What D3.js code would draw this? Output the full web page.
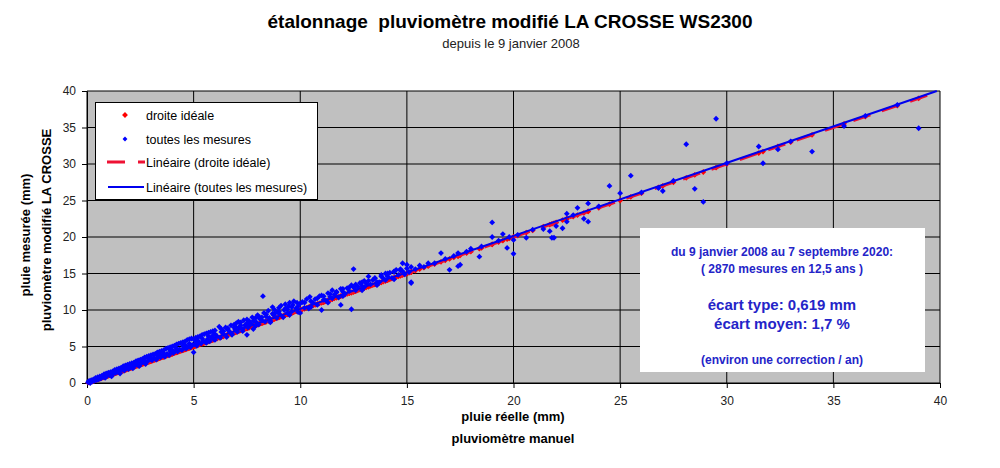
<!DOCTYPE html>
<html>
<head>
<meta charset="utf-8">
<script src="https://cdn.jsdelivr.net/npm/d3@7"></script>
<style>
  body { margin: 0; background: #fff; }
  text { font-family: Arial, "Liberation Sans", sans-serif; white-space: pre; }
</style>
</head>
<body>
<div id="chart"></div>
<script>
// data: [pluie réelle, pluie mesurée] in mm
var mesures = [
  [0.05,0.1],[0.1,0.3],[0.15,0.0],[0.2,0.4],[0.25,0.2],[0.3,0.5],[0.35,0.3],[0.4,0.7],[0.45,0.4],[0.5,0.8],
  [0.55,0.5],[0.6,0.9],[0.65,0.6],[0.7,1.0],[0.75,0.8],[0.8,1.2],[0.85,0.7],[0.9,1.3],[0.95,1.0],[1.0,1.4],
  [1.05,1.1],[1.1,1.5],[1.15,0.9],[1.2,1.6],[1.25,1.3],[1.3,1.8],[1.35,1.4],[1.4,1.9],[1.45,1.5],[1.5,2.0],
  [1.55,1.3],[1.6,2.1],[1.65,1.8],[1.7,2.3],[1.75,1.7],[1.8,2.4],[1.85,2.0],[1.9,2.5],[1.95,1.9],[2.0,2.6],
  [2.05,2.2],[2.1,2.7],[2.15,2.0],[2.2,2.8],[2.25,2.4],[2.3,3.0],[2.35,2.5],[2.4,3.1],[2.45,2.3],[2.5,3.2],
  [2.55,2.7],[2.6,3.3],[2.65,2.9],[2.7,3.5],[2.75,2.6],[2.8,3.6],[2.85,3.0],[2.9,3.7],[2.95,3.2],[3.0,3.8],
  [3.05,3.1],[3.1,3.9],[3.15,3.4],[3.2,4.0],[3.25,3.2],[3.3,4.2],[3.35,3.6],[3.4,4.3],[3.45,3.5],[3.5,4.4],
  [3.55,3.8],[3.6,4.5],[3.65,3.6],[3.7,4.7],[3.75,4.0],[3.8,4.8],[3.85,3.8],[3.9,4.9],[3.95,4.2],[4.0,5.0],
  [4.05,4.1],[4.1,5.1],[4.15,4.4],[4.2,5.3],[4.25,4.3],[4.3,5.4],[4.35,4.6],[4.4,5.5],[4.45,4.5],[4.5,5.6],
  [4.55,4.8],[4.6,5.7],[4.65,4.7],[4.7,5.9],[4.75,5.0],[4.8,6.0],[4.85,4.9],[4.9,6.1],[4.95,5.2],[5.0,4.2],
  [5.0,6.0],[5.05,5.3],[5.1,6.2],[5.15,5.1],[5.2,6.3],[5.25,5.5],[5.3,6.4],[5.35,5.4],[5.4,6.6],[5.45,5.8],
  [5.5,6.7],[5.55,5.6],[5.6,6.8],[5.65,6.0],[5.7,6.9],[5.75,5.7],[5.8,7.0],[5.85,6.2],[5.9,7.1],[5.95,6.0],
  [6.0,7.2],[6.1,6.4],[6.2,7.7],[6.25,6.2],[6.3,7.4],[6.4,6.7],[6.5,7.6],[6.55,6.3],[6.6,7.5],[6.7,7.0],
  [6.75,7.9],[6.8,6.7],[6.9,8.0],[6.95,7.3],[7.0,8.2],
  [7.05,7.0],[7.1,8.4],[7.15,7.6],[7.2,8.3],[7.3,7.4],[7.35,8.6],[7.4,7.9],[7.5,6.6],[7.5,8.7],[7.55,7.6],
  [7.6,8.5],[7.7,8.1],[7.75,9.0],[7.8,7.4],[7.9,8.9],[7.95,8.3],
  [8.0,9.3],[8.05,8.0],[8.1,9.0],[8.2,8.6],[8.25,11.9],[8.3,9.6],[8.35,8.4],[8.4,9.4],[8.5,9.9],[8.55,8.9],
  [8.6,8.3],[8.7,10.4],[8.75,9.3],[8.8,10.0],[8.9,8.9],[8.95,9.7],
  [9.0,10.3],[9.05,9.4],[9.1,10.6],[9.2,9.0],[9.25,10.0],[9.3,10.8],[9.4,9.6],[9.45,10.5],[9.5,11.0],[9.6,9.8],
  [9.65,10.7],[9.7,11.2],[9.8,10.2],[9.85,11.0],[9.9,9.7],[10.0,10.9],[10.0,9.6],
  [0.3,0.4],[0.6,0.75],[0.9,1.1],[1.2,1.45],[1.5,1.75],[1.8,2.1],[2.1,2.4],[2.4,2.75],[2.7,3.05],[3.0,3.4],
  [3.3,3.75],[3.6,4.05],[3.9,4.4],[4.2,4.75],[4.5,5.1],[4.8,5.4],[5.1,5.7],[5.4,6.1],[5.7,6.4],[6.0,6.7],
  [6.3,7.0],[6.6,7.3],[6.9,7.6],[7.2,7.9],[7.5,8.2],[7.8,8.5],[8.1,8.8],[8.4,9.1],[8.7,9.5],[9.0,9.8],
  [9.3,10.2],[9.6,10.4],[9.9,10.5],[10.2,11.0],[10.5,11.2],[10.8,11.6],[11.1,11.9],[11.4,12.2],[11.7,12.5],
  [12.0,12.9],[12.3,13.1],[12.6,13.5],[12.9,13.8],[13.2,14.0],[13.5,14.4],[13.8,14.6],[14.1,15.0],[14.4,15.2],
  [14.7,15.4],
  [0.5,0.55],[1.0,1.15],[1.7,2.0],[2.2,2.6],[2.9,3.3],[3.4,3.9],[4.0,4.5],[4.6,5.2],[5.2,5.8],[5.9,6.5],
  [6.4,7.1],[7.0,7.6],[7.6,8.1],[8.2,9.0],[8.8,9.5],[9.4,10.1],
  [5.6,5.5],[6.0,5.9],[6.8,6.6],[7.3,7.1],[7.9,7.8],[8.6,8.5],[9.5,9.3],[10.4,10.2],[11.3,11.0],[12.0,11.9],
  [12.9,12.7],[13.6,13.4],[14.4,14.2],
  [10.1,11.1],[10.2,10.3],[10.3,11.5],[10.45,11.8],[10.5,10.4],[10.6,11.0],[10.7,11.5],[10.8,10.7],[10.9,11.9],
  [11.0,10.0],[11.0,12.0],[11.1,11.4],[11.2,11.3],[11.3,12.3],[11.4,11.8],[11.5,12.7],[11.5,11.6],[11.6,12.1],
  [11.7,12.4],[11.8,11.7],[11.9,10.7],[11.9,12.9],[12.0,12.5],[12.1,12.2],[12.2,13.0],[12.3,12.6],[12.4,10.1],
  [12.4,13.4],[12.5,15.6],[12.5,13.1],[12.6,12.7],[12.7,13.2],[12.8,13.7],[12.9,13.3],[13.0,13.1],[13.0,14.0],
  [13.1,13.6],[13.2,14.6],[13.3,13.5],[13.4,14.1],[13.5,14.3],[13.6,13.8],[13.7,13.8],[13.8,14.8],[13.9,14.3],
  [14.0,14.1],[14.0,15.0],[14.1,14.6],[14.2,15.1],[14.3,14.4],[14.4,15.3],[14.5,15.5],[14.6,14.8],[14.7,15.6],
  [14.8,16.4],[14.8,15.3],[14.9,14.9],[15.0,15.7],[15.0,16.2],[15.1,15.2],[15.2,13.7],[15.2,15.9],[15.2,13.8],
  [15.4,15.6],[15.6,16.1],[15.8,15.9],[16.0,16.4],[16.3,16.4],[16.6,17.8],[16.8,17.0],[17.0,15.5],[17.2,17.4],
  [17.4,16.0],[17.4,17.8],[17.5,16.2],[17.8,18.0],[18.0,18.4],[18.4,17.3],[18.5,18.7],[19.0,22.0],[19.0,20.0],
  [19.3,19.5],[19.5,20.4],[19.7,18.5],[19.8,20.0],[20.0,19.6],[20.0,17.7],[20.2,20.3],[20.6,19.9],[20.9,21.0],
  [21.4,21.1],[21.7,20.8],[21.8,19.9],[21.9,19.9],[22.0,21.5],[22.3,21.2],[22.5,23.2],[22.5,22.1],[22.8,23.0],
  [23.0,24.0],[23.3,22.5],[23.5,24.6],[23.5,22.1],[24.0,24.2],[24.5,27.0],[25.0,26.0],[25.5,28.4],[26.0,26.1],
  [26.8,26.7],[27.0,26.3],[27.5,27.7],[28.1,32.7],[28.5,26.6],[28.9,24.8],[29.5,36.2],[30.0,30.1],
  [31.5,32.4],[31.7,30.1],[32.4,32.0],[33.0,33.1],[34.0,31.7],[35.5,35.2],[36.5,36.6],[38.0,38.1],[39.0,34.9]
];

// "droite idéale": each real value plotted against itself
var idealValues = mesures.map(function (d) { return d[0]; });

// trend lines as read on the picture
var idealLine = [[0, 0], [39.4, 39.4]];
var trendLine = [[0, 0.15], [39.85, 40]];

var xTicks = [0, 5, 10, 15, 20, 25, 30, 35, 40];
var yTicks = [0, 5, 10, 15, 20, 25, 30, 35, 40];

var legendItems = ["droite idéale", "toutes les mesures", "Linéaire (droite idéale)", "Linéaire (toutes les mesures)"];
var noteLines = [
  "du 9 janvier 2008 au 7 septembre 2020:",
  "( 2870 mesures en 12,5 ans )",
  "écart type: 0,619 mm",
  "écart moyen: 1,7 %",
  "(environ une correction / an)"
];

var svg = d3.select("#chart").append("svg")
  .attr("width", 1000)
  .attr("height", 468);

var x = d3.scaleLinear().domain([0, 40]).range([87, 940]);
var y = d3.scaleLinear().domain([0, 40]).range([383, 91]);

// titles
svg.append("text")
  .attr("x", 510).attr("y", 28)
  .attr("text-anchor", "middle")
  .attr("font-size", "19px").attr("font-weight", "bold")
  .text("étalonnage  pluviomètre modifié LA CROSSE WS2300");

svg.append("text")
  .attr("x", 511).attr("y", 48)
  .attr("text-anchor", "middle")
  .attr("font-size", "13px").attr("fill", "#222")
  .text("depuis le 9 janvier 2008");

// plot area
svg.append("rect")
  .attr("x", x(0)).attr("y", y(40))
  .attr("width", x(40) - x(0)).attr("height", y(0) - y(40))
  .style("fill", "#c0c0c0");

svg.selectAll(".vgrid").data(xTicks).enter()
  .append("line")
    .attr("class", "vgrid")
    .attr("x1", function (d) { return x(d); })
    .attr("x2", function (d) { return x(d); })
    .attr("y1", y(0)).attr("y2", y(40))
    .style("stroke", "#000").style("stroke-width", 1);

svg.selectAll(".hgrid").data(yTicks).enter()
  .append("line")
    .attr("class", "hgrid")
    .attr("x1", x(0)).attr("x2", x(40))
    .attr("y1", function (d) { return y(d); })
    .attr("y2", function (d) { return y(d); })
    .style("stroke", "#000").style("stroke-width", 1);

// axes
var xAxis = svg.append("g")
  .attr("transform", "translate(0," + y(0) + ")")
  .call(d3.axisBottom(x).tickValues(xTicks).tickSize(5).tickPadding(8).tickSizeOuter(0));
var yAxis = svg.append("g")
  .attr("transform", "translate(" + x(0) + ",0)")
  .call(d3.axisLeft(y).tickValues(yTicks).tickSize(5).tickPadding(6).tickSizeOuter(0));

[xAxis, yAxis].forEach(function (g) {
  g.selectAll("text").attr("font-size", "12px").attr("fill", "#222")
    .attr("font-family", "Arial, 'Liberation Sans', sans-serif");
  g.selectAll("line, path").attr("stroke", "#000");
});

// axis titles
svg.append("text")
  .attr("x", 513).attr("y", 421)
  .attr("text-anchor", "middle")
  .attr("font-size", "13px").attr("font-weight", "bold")
  .text("pluie réelle (mm)");
svg.append("text")
  .attr("x", 513).attr("y", 443)
  .attr("text-anchor", "middle")
  .attr("font-size", "13px").attr("font-weight", "bold")
  .text("pluviomètre manuel");

svg.append("text")
  .attr("transform", "translate(30,235) rotate(-90)")
  .attr("text-anchor", "middle")
  .attr("font-size", "13px").attr("font-weight", "bold")
  .text("pluie mesurée (mm)");
svg.append("text")
  .attr("transform", "translate(51,230) rotate(-90)")
  .attr("text-anchor", "middle")
  .attr("font-size", "13px").attr("font-weight", "bold")
  .text("pluviomètre modifié LA CROSSE");

// points: squares turned 45° give Excel-like diamonds
var diamondBig = d3.symbol().type(d3.symbolSquare).size(17);
var diamondSmall = d3.symbol().type(d3.symbolSquare).size(17);

var plot = svg.append("g");

var line = d3.line()
  .x(function (d) { return x(d[0]); })
  .y(function (d) { return y(d[1]); });

plot.selectAll(".ideal").data(idealValues).enter()
  .append("path")
    .attr("class", "ideal")
    .attr("d", diamondBig)
    .attr("transform", function (d) { return "translate(" + x(d) + "," + y(d) + ") rotate(45)"; })
    .style("fill", "#ff0000");

// trend lines
plot.append("path")
  .datum(idealLine)
  .attr("d", line)
  .style("fill", "none")
  .style("stroke", "#ee1133")
  .style("stroke-width", 3)
  .style("stroke-dasharray", "18,12");

plot.append("path")
  .datum(trendLine)
  .attr("d", line)
  .style("fill", "none")
  .style("stroke", "#0000ee")
  .style("stroke-width", 2);

plot.selectAll(".mesure").data(mesures).enter()
  .append("path")
    .attr("class", "mesure")
    .attr("d", diamondSmall)
    .attr("transform", function (d) { return "translate(" + x(d[0]) + "," + y(d[1]) + ") rotate(45)"; })
    .style("fill", "#0000ff");

// legend
var legend = svg.append("g");
legend.append("rect")
  .attr("x", 95.5).attr("y", 102.5)
  .attr("width", 222).attr("height", 97)
  .style("fill", "#fff").style("stroke", "#000");

var legendY = [115, 139, 162, 187];
legend.selectAll(".ltxt").data(legendItems).enter()
  .append("text")
    .attr("class", "ltxt")
    .attr("x", 146)
    .attr("y", function (d, i) { return legendY[i] + 4.5; })
    .attr("font-size", "12.5px")
    .text(function (d) { return d; });

legend.append("path").attr("d", diamondBig)
  .attr("transform", "translate(125," + legendY[0] + ") rotate(45)").style("fill", "#ff0000");
legend.append("path").attr("d", d3.symbol().type(d3.symbolSquare).size(12))
  .attr("transform", "translate(125," + legendY[1] + ") rotate(45)").style("fill", "#0000ff");
legend.append("line")
  .attr("x1", 107).attr("x2", 145).attr("y1", legendY[2]).attr("y2", legendY[2])
  .style("stroke", "#ee1133").style("stroke-width", 3).style("stroke-dasharray", "18,13");
legend.append("line")
  .attr("x1", 108).attr("x2", 144).attr("y1", legendY[3]).attr("y2", legendY[3])
  .style("stroke", "#0000ee").style("stroke-width", 2);

// note box
svg.append("rect")
  .attr("x", 640).attr("y", 228)
  .attr("width", 285).attr("height", 144)
  .style("fill", "#fff");

var noteY = [256, 273, 310, 329, 364];
var noteSize = ["12px", "12px", "15px", "15px", "12px"];
svg.selectAll(".note").data(noteLines).enter()
  .append("text")
    .attr("class", "note")
    .attr("x", 782)
    .attr("y", function (d, i) { return noteY[i]; })
    .attr("text-anchor", "middle")
    .attr("font-size", function (d, i) { return noteSize[i]; })
    .attr("font-weight", "bold")
    .attr("fill", "#2424c8")
    .text(function (d) { return d; });
</script>
</body>
</html>
